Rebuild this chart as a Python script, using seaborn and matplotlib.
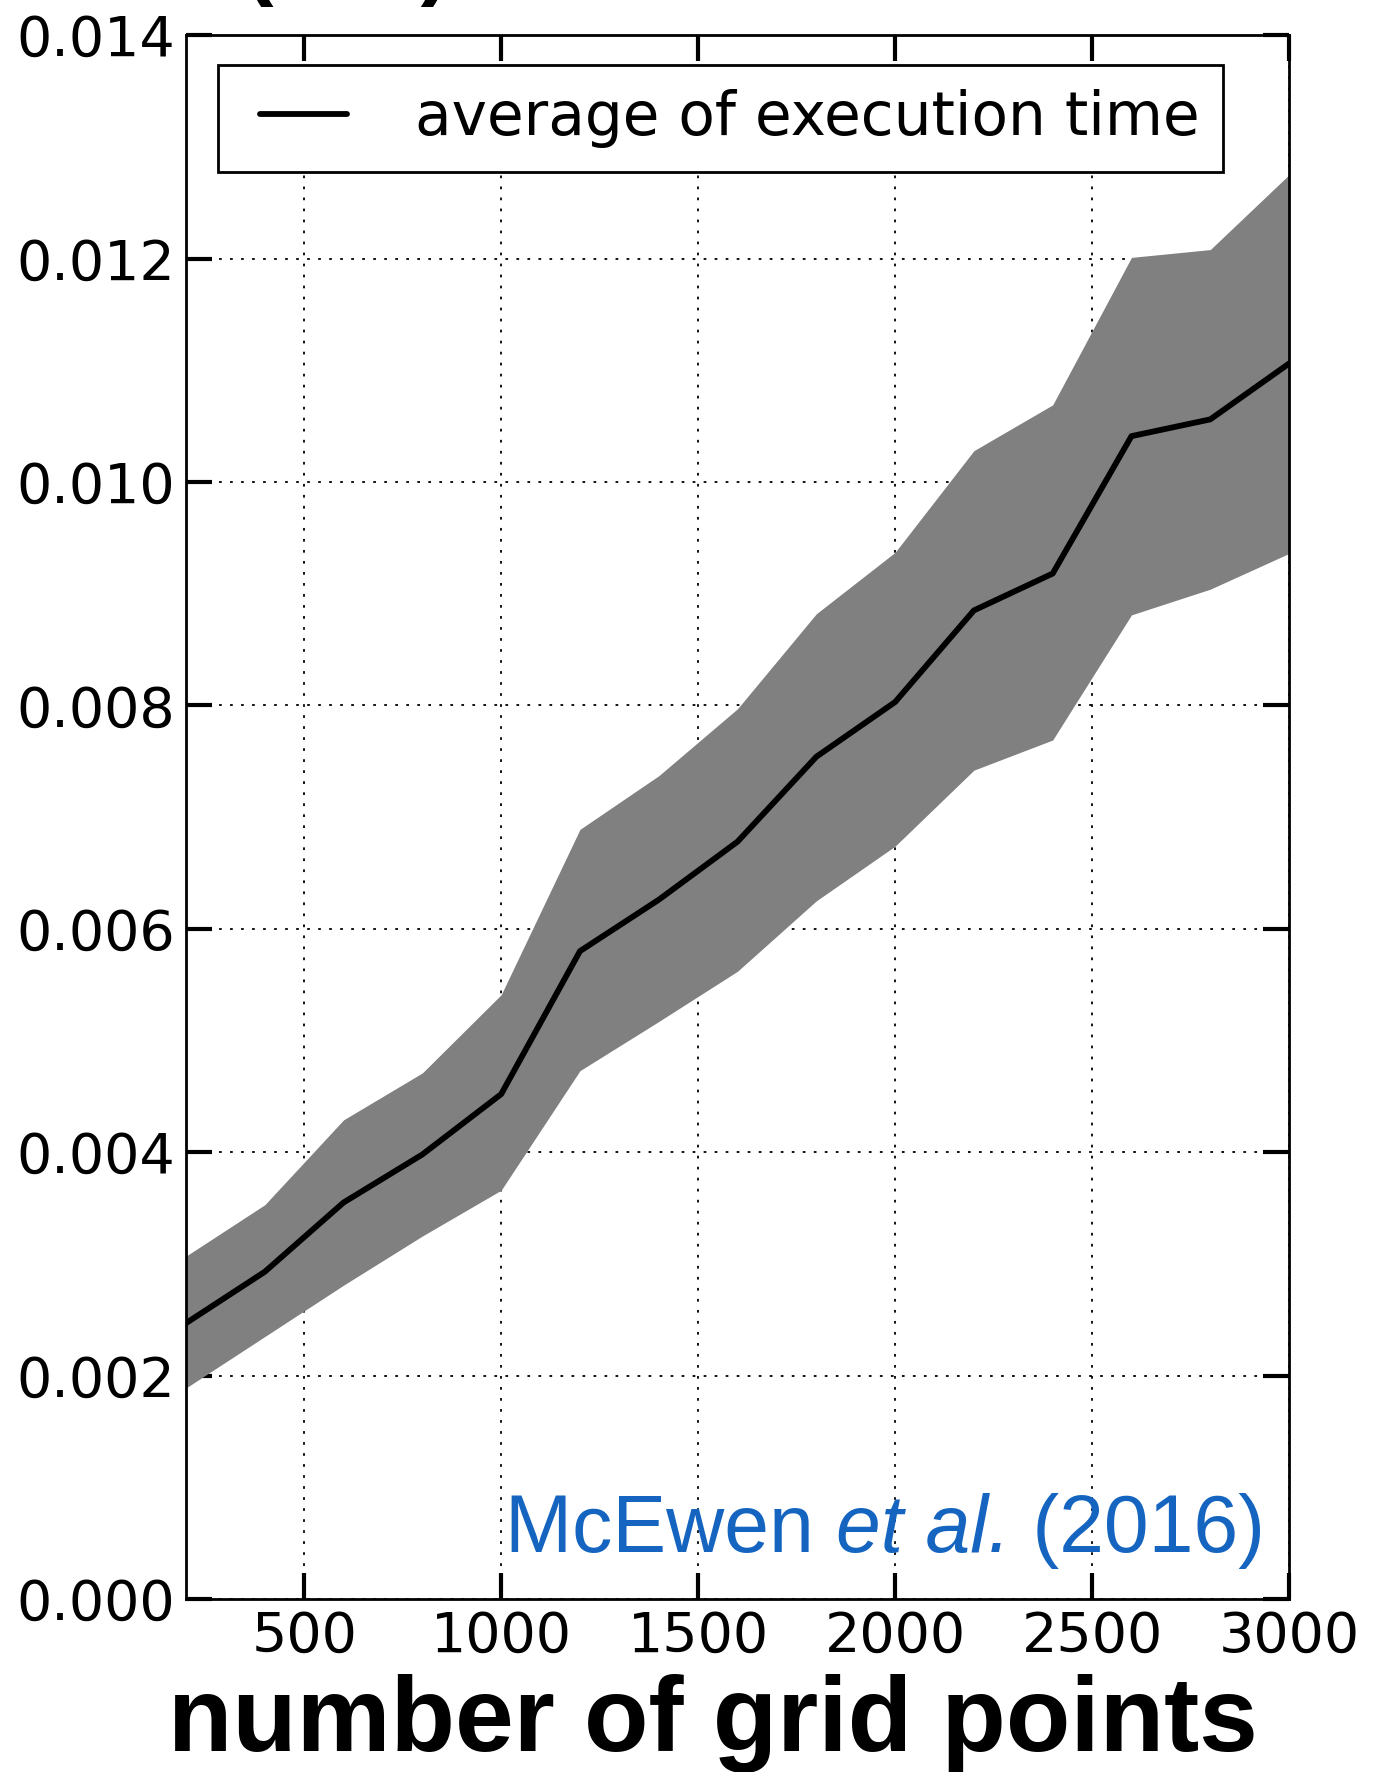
import numpy as np
import pandas as pd
import matplotlib
matplotlib.use("Agg")
import matplotlib.pyplot as plt
from matplotlib.legend_handler import HandlerLine2D
import seaborn as sns

# ---- data ----
grid_points = [200, 400, 600, 800, 1000, 1200, 1400, 1600, 1800, 2000, 2200, 2400, 2600, 2800, 3000]
mean_time = [0.00247, 0.00293, 0.00355, 0.00398, 0.00452, 0.00580, 0.00626, 0.00678, 0.00754, 0.00803,
             0.00885, 0.00918, 0.01041, 0.01056, 0.01106]
upper_time = [0.00307, 0.00353, 0.00429, 0.00471, 0.00541, 0.00689, 0.00737, 0.00797, 0.00882, 0.00937,
              0.01028, 0.01069, 0.01201, 0.01208, 0.01275]
lower_time = [0.00189, 0.00235, 0.00281, 0.00325, 0.00366, 0.00473, 0.00517, 0.00562, 0.00625, 0.00674,
              0.00742, 0.00769, 0.00881, 0.00904, 0.00936]
x_ticks = [500, 1000, 1500, 2000, 2500, 3000]
y_ticks = [0.000, 0.002, 0.004, 0.006, 0.008, 0.010, 0.012, 0.014]
legend_label = "average of execution time"
x_label = "number of grid points"
credit = ["McEwen ", "et al.", " (2016)"]

df = pd.DataFrame({"n": grid_points, "t": mean_time})

sns.set_theme(style="white")
plt.rcParams["font.family"] = ["DejaVu Sans"]
plt.rcParams["text.color"] = "black"
plt.rcParams["axes.labelcolor"] = "black"

fig = plt.figure(figsize=(13.75, 17.72), dpi=100)
ax = fig.add_axes([0.1353, 0.0976, 0.8022, 0.8826])

ax.fill_between(grid_points, lower_time, upper_time, color="#808080", linewidth=0, zorder=2)
sns.lineplot(data=df, x="n", y="t", ax=ax, color="black", linewidth=4.2, label=legend_label, zorder=3)

ax.set_xlim(200, 3000)
ax.set_ylim(0, 0.014)
ax.set_xticks(x_ticks)
ax.set_yticks(y_ticks)
ax.set_yticklabels([f"{v:.3f}" for v in y_ticks])
ax.grid(True, color="black", linestyle=(0, (1.5, 4.6)), linewidth=1.3, zorder=1)
ax.set_axisbelow(True)

ax.tick_params(axis="both", which="major", direction="in", length=19, width=3,
               left=True, bottom=True, top=True, right=True, labelsize=40,
               color="black", labelcolor="black", pad=8)
for s in ax.spines.values():
    s.set_color("black")
    s.set_linewidth(2)

ax.set_xlabel(x_label, fontsize=76, fontweight="bold", family="Liberation Sans", color="black")
ax.xaxis.set_label_coords(0.4775, -0.048)
ax.set_ylabel("")

handles, labels = ax.get_legend_handles_labels()
leg = ax.legend(handles, labels, loc="upper left", bbox_to_anchor=(0.029, 0.981), fontsize=43,
                frameon=True, fancybox=False, edgecolor="black", handlelength=1.76,
                handletextpad=1.13, borderpad=0.4, borderaxespad=0.0,
                handler_map={handles[0]: HandlerLine2D(xpad=0.30)})
leg.get_frame().set_linewidth(2)
leg.get_frame().set_facecolor("white")
leg.get_frame().set_alpha(1)
for t in leg.get_texts():
    t.set_color("black")

# credit text, right aligned with mixed italic
blue = "#1565C0"
yb = 0.0300
t3 = ax.text(0.9785, yb, credit[2], transform=ax.transAxes, ha="right", va="baseline",
             fontsize=58, color=blue, family="Liberation Sans")
fig.canvas.draw()
r = fig.canvas.get_renderer()
bb3 = t3.get_window_extent(r).transformed(ax.transAxes.inverted())
t2 = ax.text(bb3.x0, yb, credit[1], transform=ax.transAxes, ha="right", va="baseline",
             fontsize=58, color=blue, family="Liberation Sans", style="italic")
bb2 = t2.get_window_extent(r).transformed(ax.transAxes.inverted())
ax.text(bb2.x0, yb, credit[0], transform=ax.transAxes, ha="right", va="baseline",
        fontsize=58, color=blue, family="Liberation Sans")

# clipped title fragment at the very top
fig.text(0.177, 1.0 + 12 / 1772, "(sec)", ha="left", va="baseline", fontsize=64,
         fontweight="bold", family="Liberation Sans", color="black")

fig.savefig("out.png", dpi=100)
